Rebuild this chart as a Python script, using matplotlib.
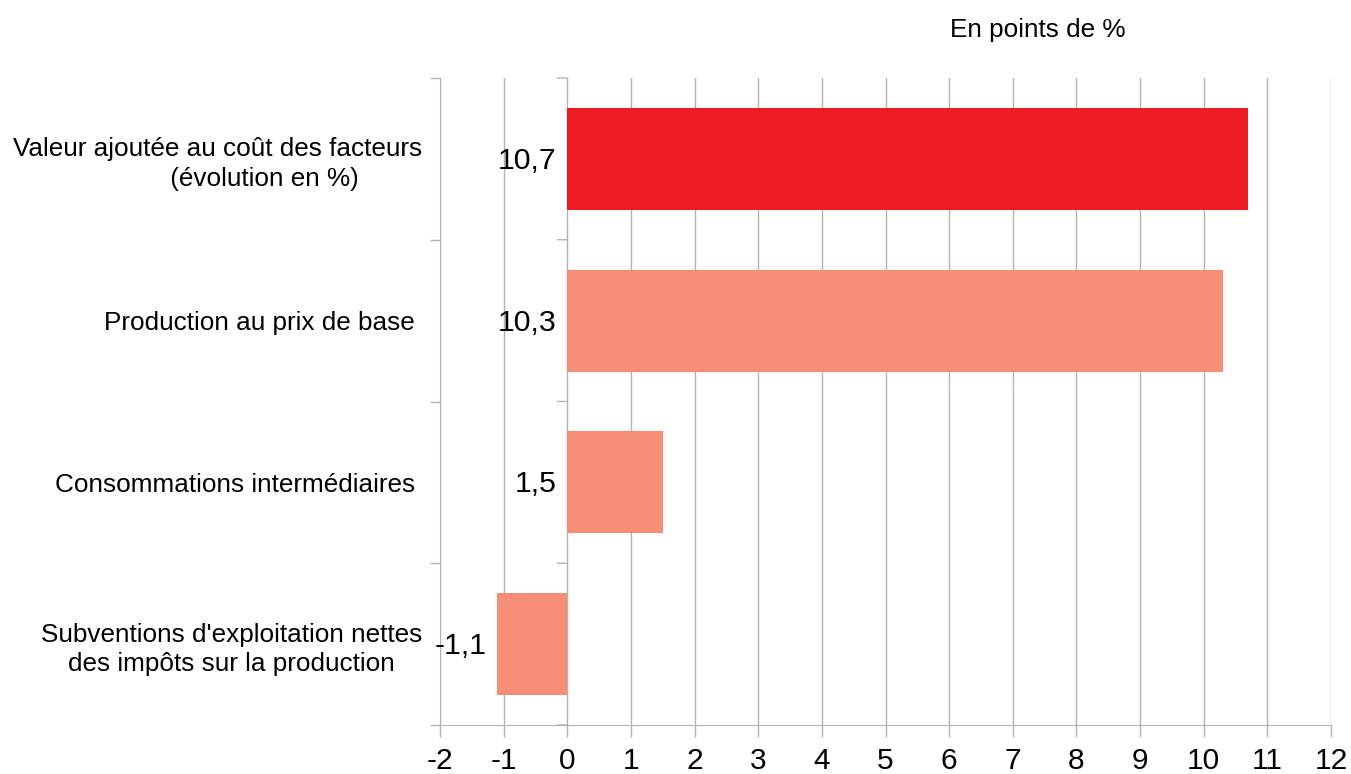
import matplotlib
matplotlib.use("Agg")
import matplotlib.pyplot as plt
import numpy as np

plt.rcParams['font.family'] = ['Liberation Sans', 'DejaVu Sans']

categories = [
    "Valeur ajoutée au coût des facteurs\n             (évolution en %)",
    "Production au prix de base ",
    "Consommations intermédiaires ",
    "Subventions d'exploitation nettes\ndes impôts sur la production",
]
values = [10.7, 10.3, 1.5, -1.1]
value_labels = ["10,7", "10,3", "1,5", "-1,1"]
colors = ["#ED1C24", "#F58E75", "#F58E75", "#F58E75"]
x_ticks = list(range(-2, 13))
x_tick_labels = [str(t) for t in x_ticks]
unit_label = "En points de %"

grid_color = "#B3B3B3"

fig = plt.figure(figsize=(13.51, 7.74), dpi=100)
ax = fig.add_axes([440/1351, 1-725/774, (1331-440)/1351, (725-78)/774])

ypos = np.arange(len(categories))
ax.barh(ypos, values, height=0.63, color=colors, zorder=3)

ax.set_xlim(x_ticks[0], x_ticks[-1])
ax.set_ylim(len(categories) - 0.5, -0.5)

ax.set_xticks(x_ticks)
ax.set_xticklabels(x_tick_labels, fontsize=21.5)
ax.tick_params(axis='x', direction='out', length=8.5, width=1, color=grid_color, pad=7.5)

boundaries = np.arange(len(categories) + 1) - 0.5
ax.set_yticks(boundaries)
ax.set_yticklabels([])
ax.set_yticks(ypos, minor=True)
ax.set_yticklabels(categories, minor=True, fontsize=18.8, multialignment='center',
                   linespacing=1.28)
ax.tick_params(axis='y', which='major', direction='out', length=7.2, width=1, color=grid_color)
ax.tick_params(axis='y', which='minor', length=0, pad=13)

ax.grid(axis='x', color=grid_color, linewidth=1, zorder=0)
ax.set_axisbelow(True)
for s in ['top', 'right']:
    ax.spines[s].set_visible(False)
ax.spines['left'].set_color(grid_color)
ax.spines['bottom'].set_color(grid_color)

# tick marks on the zero axis at category boundaries
for b in boundaries:
    ax.annotate('', xy=(0, b), xycoords='data', xytext=(-7.2, 0),
                textcoords='offset points',
                arrowprops=dict(arrowstyle='-', color=grid_color, lw=1,
                                shrinkA=0, shrinkB=0))

# value labels
for y, v, lab in zip(ypos, values, value_labels):
    ax.annotate(lab, xy=(min(0, v), y), xytext=(-7.5, -1.5), textcoords='offset points',
                ha='right', va='center', fontsize=21.8, zorder=4)

fig.text(1038/1351, 1-30/774, unit_label, ha='center', va='center', fontsize=18.8)

fig.savefig("out.png", dpi=100)
